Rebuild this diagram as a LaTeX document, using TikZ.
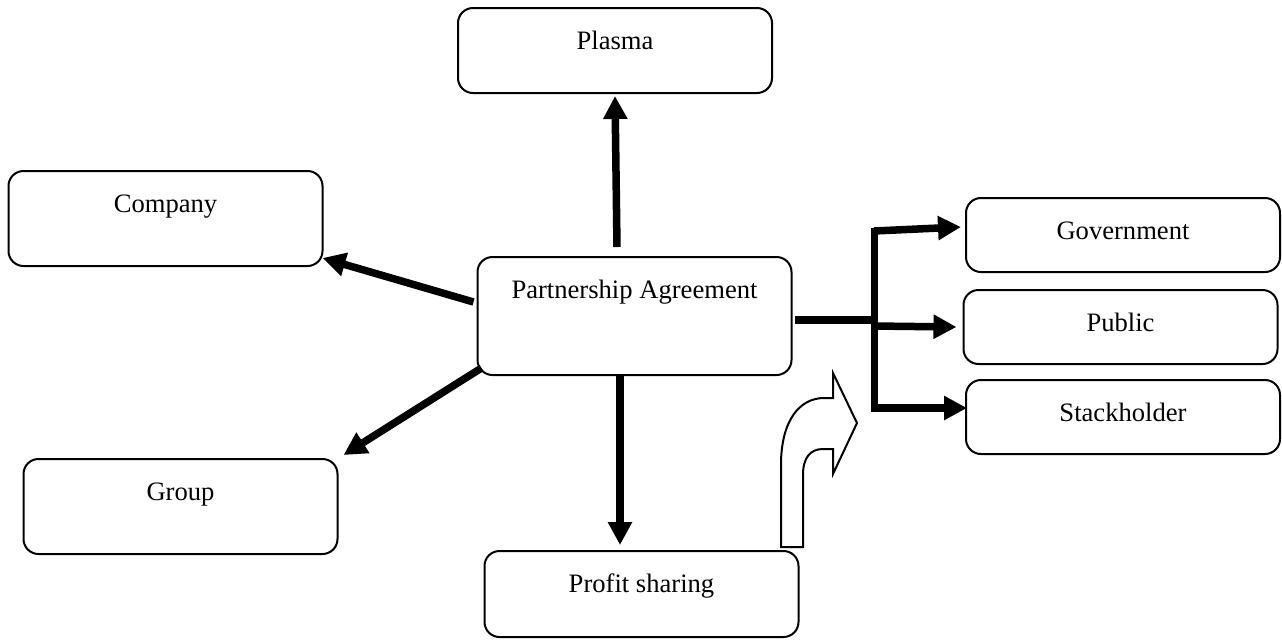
\documentclass[tikz,border=0pt]{standalone}
\usepackage{fontspec}
\setmainfont{Liberation Serif}
\usepackage{tikz}
\usetikzlibrary{arrows.meta}
\tikzset{basic/.style={draw,line width=1pt,rounded corners=7.5pt,
                       minimum width=157pt,inner sep=0pt,text height=20.5pt,
                       font=\fontsize{13.3}{16}\selectfont}}
\tikzset{fat/.style={line width=3.75pt,-{Triangle[length=11.5pt,width=11.5pt]}}}

\begin{document}
\begin{tikzpicture}[x=0.5pt,y=-0.5pt]
  \useasboundingbox (0,0) rectangle (1282,639);

  \tikzstyle{tall_box}=[basic,text depth=38.5pt];
  \tikzstyle{mid_box}=[basic,text depth=27pt];
  \tikzstyle{low_box}=[basic,text depth=22pt];
  \tikzstyle{flat_box}=[basic,text depth=16.5pt];

  \node (agreement) at (634.5, 316)[tall_box]{Partnership Agreement};

  \node (plasma) at (615, 50.5)[low_box]{Plasma};
  \node (company) at (165.5, 218.5)[mid_box]{Company};
  \node (group) at (180.5, 506.5)[mid_box]{Group};
  \node (profit) at (641.5, 594)[low_box,text depth=22.5pt]{Profit sharing};

  \node (government) at (1123, 235)[flat_box]{Government};
  \node (public) at (1120.5, 327)[flat_box]{Public};
  \node (stackholder) at (1123, 417)[flat_box]{Stackholder};

  \draw[fat] ([xshift=-8.75pt,yshift=4.5pt]agreement.north) -- ([yshift=-1pt]plasma.south);
  \draw[fat] ([xshift=-1.5pt,yshift=7pt]agreement.west) -- ([xshift=-0.5pt,yshift=4.5pt]company.south east);
  \draw[fat] ([xshift=2.5pt,yshift=4pt]agreement.south west) -- ([xshift=2.5pt,yshift=1.5pt]group.north east);
  \draw[fat] ([xshift=-7.25pt]agreement.south) -- ([xshift=-10.75pt,yshift=2.5pt]profit.north);

  % fork to the right
  \coordinate (split) at (876, 320);
  \coordinate (split_top) at (874, 231);
  \coordinate (split_mid) at (874, 326);
  \coordinate (split_bottom) at (874, 408);

  \draw[line width=3.75pt] ([xshift=1pt,yshift=-2pt]agreement.east) -- (split);
  \draw[line width=3.5pt,line cap=rect] (split_top) -- (split_bottom);

  \draw[fat] (split_top) -- ([xshift=-2pt,yshift=4pt]government.west);
  \draw[fat] (split_mid) -- ([xshift=-3pt]public.west);
  \draw[fat] (split_bottom) -- ([xshift=1pt,yshift=4.5pt]stackholder.west);

  % bent block arrow
  \draw[line width=1pt,fill=white,line join=miter] (781,547) -- (781,465)
    .. controls (781,420) and (800,398) .. (824,398) -- (833,398) -- (833,373)
    -- (857,423) -- (833,474) -- (833,449) -- (823,449)
    .. controls (810,449) and (803,458) .. (803,475) -- (803,547) -- cycle;

\end{tikzpicture}
\end{document}
